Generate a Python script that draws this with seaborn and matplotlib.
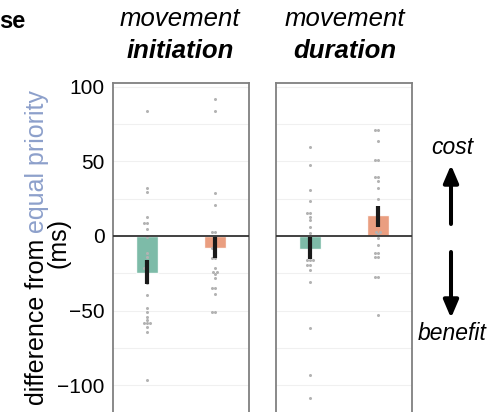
import numpy as np
import pandas as pd
import matplotlib.pyplot as plt
import seaborn as sns
from matplotlib.ticker import MultipleLocator

# conditions (green / orange bars)
conditions = ['cond1', 'cond2']
bar_colors = ['#66c2a5', '#fc8d62']

# movement initiation: per-subject differences (ms)
init_cond1 = [83.4, 32.4, 29.3, 13.0, 8.9, 8.9, 4.5, -0.4, -11.2, -13.9, -21.7, -21.7,
              -31.8, -39.6, -48.5, -51.2, -54.1, -56.4, -58.6, -58.6, -58.6, -60.8, -64.2, -96.6]
init_cond2 = [91.9, 83.4, 29.1, 20.4, 2.9, 2.9, -0.4, -4.9, -8.3, -8.3, -11.6, -15.0,
              -15.0, -21.7, -24.0, -24.0, -25.5, -28.4, -35.1, -35.1, -38.9, -51.2, -51.2]
# movement duration: per-subject differences (ms)
dur_cond1 = [59.3, 47.7, 30.9, 23.5, 15.7, 15.7, 13.0, 10.7, 5.8, 1.8, -2.7, -6.0,
             -11.6, -16.1, -16.1, -16.1, -19.5, -19.5, -22.8, -31.1, -61.9, -93.3, -108.9]
dur_cond2 = [70.7, 70.7, 63.3, 51.0, 51.0, 39.4, 39.4, 36.5, 32.0, 24.8, 18.6, 13.0,
             8.5, 2.9, 2.9, 1.3, -1.6, -6.0, -11.2, -11.2, -14.3, -14.3, -27.3, -27.3, -53.0]

# bar heights and error bar ends
init_means = [-24.6, -8.1]
init_err_lo = [-32.2, -15.0]
init_err_hi = [-16.1, -0.4]
dur_means = [-8.9, 14.3]
dur_err_lo = [-15.5, 6.2]
dur_err_hi = [-1.0, 20.0]

sns.set_style('white')
plt.rcParams['font.family'] = ['Liberation Sans', 'DejaVu Sans']
plt.rcParams['text.color'] = 'black'
plt.rcParams['ytick.color'] = 'black'

W, H = 492, 412
fig = plt.figure(figsize=(W / 100, H / 100), dpi=100)
ax1 = fig.add_axes([113 / W, 0, 136 / W, 329 / H])
ax2 = fig.add_axes([276 / W, 0, 136 / W, 329 / H])


def draw_panel(ax, pts1, pts2, means, lo, hi):
    ax.set_axisbelow(True)
    ax.yaxis.set_major_locator(MultipleLocator(50))
    ax.yaxis.set_minor_locator(MultipleLocator(25))
    ax.grid(which='both', axis='y', color='#f0f0f0', lw=0.8)
    sns.barplot(x=conditions, y=means, hue=conditions, palette=bar_colors,
                width=0.33, errorbar=None, legend=False, alpha=0.92,
                order=conditions, ax=ax)
    df = pd.DataFrame({'cond': ['cond1'] * len(pts1) + ['cond2'] * len(pts2),
                       'value': pts1 + pts2})
    sns.swarmplot(data=df, x='cond', y='value', order=conditions, color='#b3b3b3',
                  size=2.2, ax=ax, zorder=3)
    means = np.array(means)
    yerr = [means - np.array(lo), np.array(hi) - means]
    ax.errorbar(conditions, means, yerr=yerr, fmt='none', ecolor='#1a1a1a',
                elinewidth=3, capsize=0, zorder=4)
    ax.axhline(0, color='#333333', lw=1.3, zorder=5)
    ax.set_xlim(-0.5, 1.5)
    ax.set_ylim(-118, 102.5)
    ax.set_xlabel('')
    ax.set_ylabel('')
    ax.set_xticks([])
    ax.tick_params(axis='y', length=0, labelsize=15, pad=6, labelcolor='black')
    for s in ['left', 'top', 'right']:
        ax.spines[s].set_color('#808080')
        ax.spines[s].set_linewidth(1.3)
    ax.spines['bottom'].set_visible(False)


draw_panel(ax1, init_cond1, init_cond2, init_means, init_err_lo, init_err_hi)
draw_panel(ax2, dur_cond1, dur_cond2, dur_means, dur_err_lo, dur_err_hi)
ax2.set_yticklabels([])

# panel headings
fig.text(180 / W, 1 - 19 / H, 'movement', style='italic', fontsize=18.5, ha='center', va='center')
fig.text(180 / W, 1 - 51 / H, 'initiation', style='italic', weight='bold', fontsize=18.5,
         ha='center', va='center')
fig.text(345 / W, 1 - 19 / H, 'movement', style='italic', fontsize=18.5, ha='center', va='center')
fig.text(345 / W, 1 - 51 / H, 'duration', style='italic', weight='bold', fontsize=18.5,
         ha='center', va='center')
fig.text(-0.002, 1 - 21 / H, 'se', weight='bold', fontsize=17, ha='left', va='center')

# y label with coloured part
fig.canvas.draw()
r = fig.canvas.get_renderer()
t1 = fig.text(37 / W, 1 - 405 / H, 'difference from', rotation=90, fontsize=18,
              ha='center', va='bottom')
bb = t1.get_window_extent(r)
t2 = fig.text(37 / W, (bb.y1 + 6) / H, 'equal priority', rotation=90, fontsize=18,
              color='#8da0cb', ha='center', va='bottom')
fig.text(59 / W, 1 - 243 / H, '(ms)', rotation=90, fontsize=18, ha='center', va='center')

# cost / benefit arrows
fig.text(452 / W, 1 - 147 / H, 'cost', style='italic', fontsize=16.5, ha='center', va='center')
fig.text(452 / W, 1 - 334 / H, 'benefit', style='italic', fontsize=16.5, ha='center', va='center')
arrow_kw = dict(arrowstyle='-|>,head_length=0.75,head_width=0.32', color='black', lw=2.9,
                shrinkA=0, shrinkB=0, mutation_scale=14)
ax1.annotate('', xy=(451, H - 165), xytext=(451, H - 224), xycoords='figure pixels',
             textcoords='figure pixels', arrowprops=arrow_kw)
ax1.annotate('', xy=(451, H - 318), xytext=(451, H - 252), xycoords='figure pixels',
             textcoords='figure pixels', arrowprops=arrow_kw)

fig.savefig('out.png', dpi=100)
